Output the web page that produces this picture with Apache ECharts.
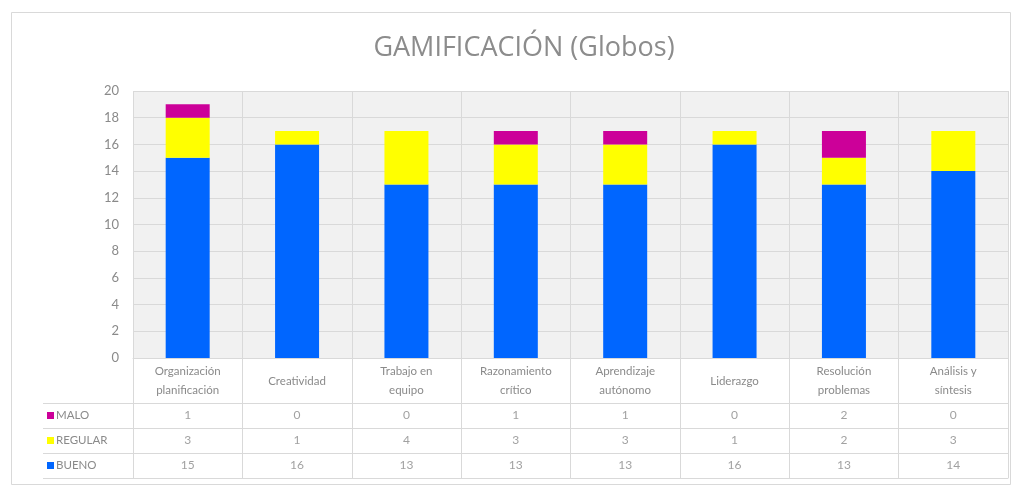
<!DOCTYPE html>
<html>
<head>
<meta charset="utf-8">
<script src="https://cdn.jsdelivr.net/npm/echarts@6/dist/echarts.min.js"></script>
<style>html,body{margin:0;padding:0;background:#fff}#c{width:1014px;height:487px}</style>
</head>
<body>
<div id="c"></div>
<script>
const categories = ['Organización\nplanificación','Creatividad','Trabajo en\nequipo','Razonamiento\ncrítico','Aprendizaje\nautónomo','Liderazgo','Resolución\nproblemas','Análisis y\nsíntesis'];
const seriesNames = ['MALO','REGULAR','BUENO'];
const malo = [1,0,0,1,1,0,2,0];
const regular = [3,1,4,3,3,1,2,3];
const bueno = [15,16,13,13,13,16,13,14];
const seriesColors = {MALO:'#CC0099', REGULAR:'#FFFF00', BUENO:'#0066FF'};
const yTicks = [0,2,4,6,8,10,12,14,16,18,20];

const valuesByName = {MALO:malo, REGULAR:regular, BUENO:bueno};
const font = 'Lato, "Open Sans", sans-serif';
const lineC = '#d9d9d9';
const textC = '#8a8a8a';

const tableData = [];
seriesNames.forEach(n => {
  valuesByName[n].forEach((v,i) => tableData.push([categories[i], n, v]));
});

const keyStyle = c => ({backgroundColor:c, width:7, height:7});

const chart = echarts.init(document.getElementById('c'));
chart.setOption({
  backgroundColor:'#ffffff',
  animation:false,
  title:{text:'GAMIFICACIÓN (Globos)', left:519, textAlign:'center', top:30,
    textStyle:{fontFamily:'"Open Sans", sans-serif', fontSize:27, fontWeight:'normal', color:'#8c8c8c'}},
  graphic:[{type:'rect', shape:{x:11.5,y:12.5,width:999,height:472},
    style:{fill:'none', stroke:'#d9d9d9', lineWidth:1}, silent:true, z:-1}],
  grid:[
    {left:133, right:6, top:91, bottom:129, show:true, backgroundColor:'#f1f1f1', borderWidth:0},
    {left:133, right:6, top:403, bottom:9, show:false}
  ],
  xAxis:[
    {type:'category', gridIndex:0, data:categories,
     axisLine:{lineStyle:{color:lineC}},
     axisTick:{show:true, length:45, lineStyle:{color:lineC}},
     splitLine:{show:true, lineStyle:{color:lineC}},
     axisLabel:{color:textC, fontFamily:font, fontSize:11.5, lineHeight:19, margin:23, verticalAlign:'middle', interval:0}},
    {type:'category', gridIndex:1, data:categories,
     axisLine:{show:true, lineStyle:{color:lineC}},
     axisTick:{show:false}, axisLabel:{show:false},
     splitLine:{show:true, lineStyle:{color:lineC}}}
  ],
  yAxis:[
    {type:'value', gridIndex:0, min:0, max:20, interval:2,
     axisLine:{show:false}, axisTick:{show:false},
     splitLine:{show:true, lineStyle:{color:lineC}},
     axisLabel:{color:textC, fontFamily:font, fontSize:13, margin:14,
       formatter:v => yTicks.includes(v) ? String(v) : ''}},
    {type:'category', gridIndex:1, data:seriesNames, inverse:true,
     axisLine:{show:true, lineStyle:{color:lineC}},
     axisTick:{show:true, length:90, lineStyle:{color:lineC}},
     splitLine:{show:true, lineStyle:{color:lineC}},
     axisLabel:{align:'left', margin:86, fontFamily:font, fontSize:11.5, color:textC,
       formatter:n => '{' + n + '|}{g|}' + n,
       rich:{
         MALO:keyStyle(seriesColors.MALO),
         REGULAR:keyStyle(seriesColors.REGULAR),
         BUENO:keyStyle(seriesColors.BUENO),
         g:{width:2}
       }}}
  ],
  series:[
    {name:'BUENO', type:'bar', stack:'s', data:bueno, barWidth:44, itemStyle:{color:seriesColors.BUENO}},
    {name:'REGULAR', type:'bar', stack:'s', data:regular, barWidth:44, itemStyle:{color:seriesColors.REGULAR}},
    {name:'MALO', type:'bar', stack:'s', data:malo, barWidth:44, itemStyle:{color:seriesColors.MALO}},
    {type:'scatter', xAxisIndex:1, yAxisIndex:1, symbolSize:0, data:tableData,
     label:{show:true, position:'inside', formatter:p => String(p.value[2]),
       color:textC, fontFamily:font, fontSize:12}}
  ]
});
</script>
</body>
</html>
